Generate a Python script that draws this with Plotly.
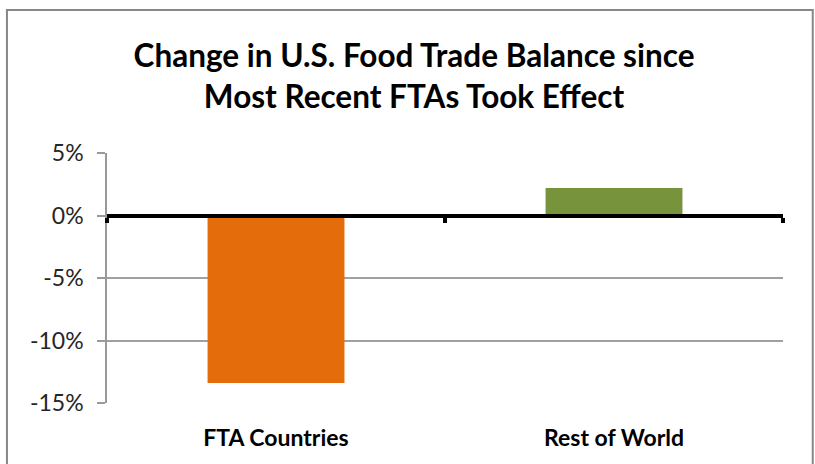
import plotly.graph_objects as go

# data
categories = ["FTA Countries", "Rest of World"]
change_pct = [-13.4, 2.2]
bar_colors = ["#E46C0A", "#77933C"]
y_ticks = [5, 0, -5, -10, -15]
y_tick_labels = ["5%", "0%", "-5%", "-10%", "-15%"]

title_text = "Change in U.S. Food Trade Balance since<br>Most Recent FTAs Took Effect"

fig = go.Figure()

fig.add_trace(go.Bar(
    x=categories, y=change_pct,
    marker=dict(color=bar_colors, line=dict(width=0)),
    width=0.405,
    showlegend=False,
))

# invisible copy on the bottom axis so that its category labels render
fig.add_trace(go.Scatter(
    x=categories, y=change_pct, xaxis="x2",
    mode="markers", marker=dict(opacity=0),
    hoverinfo="skip", showlegend=False,
))

fig.update_layout(
    width=815, height=464,
    margin=dict(l=107, r=32, t=153, b=61),
    paper_bgcolor="white", plot_bgcolor="white",
    font=dict(family="Lato", color="#262626"),
    title=dict(
        text=title_text,
        font=dict(family="Lato", size=31.5, color="#000000", weight="bold"),
        x=0.508, xref="container", xanchor="center",
        y=1 - 67 / 464, yref="container", yanchor="top",
    ),
    # zero axis: thick black line with ticks between the categories
    xaxis=dict(
        anchor="free", position=0.75,
        showline=True, linecolor="black", linewidth=4,
        ticks="outside", tickson="boundaries", ticklen=5, tickwidth=4,
        tickcolor="black",
        showticklabels=False, showgrid=False, zeroline=False,
    ),
    xaxis2=dict(
        overlaying="x", matches="x", anchor="y", side="bottom",
        showline=False, ticks="", showgrid=False, zeroline=False,
        tickfont=dict(family="Lato", size=23, color="#000000", weight="bold"),
        ticklabelstandoff=19,
    ),
    yaxis=dict(
        range=[-15, 5],
        tickvals=y_ticks, ticktext=y_tick_labels,
        tickfont=dict(family="Lato", size=23, color="#262626"),
        showline=True, linecolor="#999999", linewidth=1.5,
        ticks="outside", ticklen=8, tickcolor="#999999", tickwidth=1.5,
        showgrid=True, gridcolor="#a0a0a0", gridwidth=1.5,
        zeroline=False,
        ticklabelstandoff=9,
    ),
    shapes=[dict(
        type="rect", xref="paper", yref="paper",
        x0=-0.148, x1=1.044, y0=-0.4, y1=1.572,
        line=dict(color="#878787", width=2), layer="below",
    )],
)

fig.write_html("out.html", config={"displayModeBar": False},
               post_script="document.body.style.margin='0';")
